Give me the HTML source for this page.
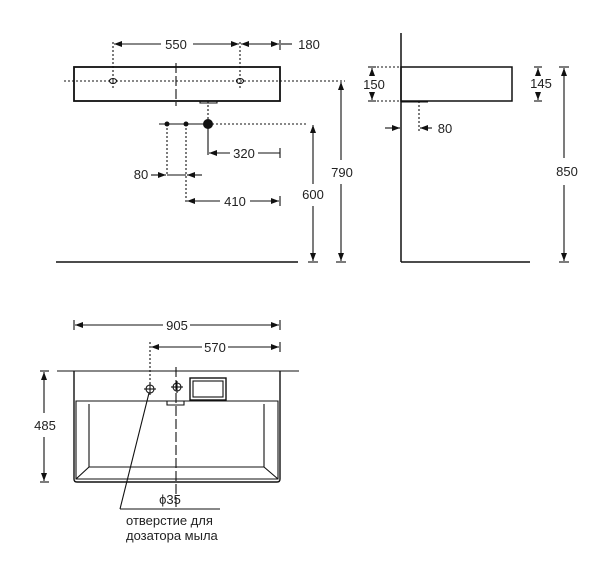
<!DOCTYPE html>
<html><head><meta charset="utf-8"><style>
html,body{margin:0;padding:0;background:#fff;width:612px;height:575px;overflow:hidden}
svg{display:block}
text{font-family:"Liberation Sans","DejaVu Sans",sans-serif;font-size:13px;fill:#222}
</style></head><body>
<svg width="612" height="575" viewBox="0 0 612 575" xmlns="http://www.w3.org/2000/svg">
<defs>
<marker id="a" markerWidth="8" markerHeight="6" refX="8" refY="3" orient="auto-start-reverse" markerUnits="userSpaceOnUse"><path d="M0,0 L8,3 L0,6 z" fill="#111"/></marker>
</defs>
<g stroke="#111" fill="none" stroke-width="1.1">
<rect x="74" y="67" width="206" height="34" stroke-width="1.8"/>
<line x1="176" y1="63" x2="176" y2="106" stroke-dasharray="10,3"/>
<path d="M200,101 v2 h17 v-2"/>
<line x1="64" y1="81" x2="345" y2="81" stroke-dasharray="2,2"/>
<ellipse cx="113" cy="81" rx="3.5" ry="2.5"/><ellipse cx="240" cy="81" rx="3.5" ry="2.5"/>
<line x1="113" y1="42" x2="113" y2="90" stroke-dasharray="2,2"/>
<line x1="240" y1="42" x2="240" y2="90" stroke-dasharray="2,2"/>
<line x1="280" y1="40" x2="280" y2="50"/>
<line x1="114" y1="44" x2="161" y2="44" marker-start="url(#a)"/>
<line x1="193" y1="44" x2="239" y2="44" marker-end="url(#a)"/>
<line x1="241" y1="44" x2="279" y2="44" marker-start="url(#a)" marker-end="url(#a)"/>
<line x1="281" y1="44" x2="292" y2="44"/>
<line x1="159" y1="124" x2="210" y2="124"/>
<line x1="212" y1="124" x2="306" y2="124" stroke-dasharray="2,2"/>
<line x1="208" y1="101" x2="208" y2="120" stroke-dasharray="2,2"/>
<line x1="167" y1="124" x2="167" y2="176" stroke-dasharray="2,2"/>
<line x1="186" y1="124" x2="186" y2="203" stroke-dasharray="2,2"/>
<line x1="208" y1="128" x2="208" y2="155"/>
<line x1="209" y1="153" x2="230" y2="153" marker-start="url(#a)"/>
<line x1="258" y1="153" x2="280" y2="153"/>
<line x1="280" y1="148" x2="280" y2="158"/>
<line x1="151" y1="175" x2="166" y2="175" marker-end="url(#a)"/>
<line x1="202" y1="175" x2="187" y2="175" marker-end="url(#a)"/>
<line x1="167" y1="175" x2="186" y2="175"/>
<line x1="187" y1="201" x2="220" y2="201" marker-start="url(#a)"/>
<line x1="250" y1="201" x2="279" y2="201" marker-end="url(#a)"/>
<line x1="280" y1="196" x2="280" y2="206"/>
<line x1="313" y1="125" x2="313" y2="184" marker-start="url(#a)"/>
<line x1="313" y1="206" x2="313" y2="261" marker-end="url(#a)"/>
<line x1="308" y1="262" x2="318" y2="262"/>
<line x1="341" y1="82" x2="341" y2="160" marker-start="url(#a)"/>
<line x1="341" y1="184" x2="341" y2="261" marker-end="url(#a)"/>
<line x1="336" y1="262" x2="346" y2="262"/>
<line x1="56" y1="262" x2="298" y2="262" stroke-width="1.5"/>
<line x1="401" y1="33" x2="401" y2="262" stroke-width="1.5"/>
<line x1="401" y1="262" x2="530" y2="262" stroke-width="1.5"/>
<rect x="401" y="67" width="111" height="34" stroke-width="1.5"/>
<line x1="373" y1="67" x2="401" y2="67" stroke-dasharray="2,2"/>
<line x1="373" y1="101" x2="401" y2="101" stroke-dasharray="2,2"/>
<line x1="401" y1="101.5" x2="428" y2="101.5" stroke-width="2"/>
<line x1="372" y1="68" x2="372" y2="76" marker-start="url(#a)"/>
<line x1="372" y1="93" x2="372" y2="100" marker-end="url(#a)"/>
<line x1="368" y1="67" x2="376" y2="67"/><line x1="368" y1="101" x2="376" y2="101"/>
<line x1="538" y1="68" x2="538" y2="75" marker-start="url(#a)"/>
<line x1="538" y1="94" x2="538" y2="100" marker-end="url(#a)"/>
<line x1="534" y1="67" x2="542" y2="67"/><line x1="534" y1="101" x2="542" y2="101"/>
<line x1="419" y1="101" x2="419" y2="131" stroke-dasharray="2,2"/>
<line x1="385" y1="128" x2="400" y2="128" marker-end="url(#a)"/>
<line x1="432" y1="128" x2="420" y2="128" marker-end="url(#a)"/>
<line x1="564" y1="68" x2="564" y2="158" marker-start="url(#a)"/>
<line x1="564" y1="185" x2="564" y2="261" marker-end="url(#a)"/>
<line x1="559" y1="67" x2="569" y2="67"/><line x1="559" y1="262" x2="569" y2="262"/>
<line x1="74" y1="320" x2="74" y2="330"/><line x1="280" y1="320" x2="280" y2="330"/>
<line x1="75" y1="325" x2="163" y2="325" marker-start="url(#a)"/>
<line x1="190" y1="325" x2="279" y2="325" marker-end="url(#a)"/>
<line x1="150" y1="342" x2="150" y2="386" stroke-dasharray="2,2"/>
<line x1="280" y1="342" x2="280" y2="352"/>
<line x1="151" y1="347" x2="202" y2="347" marker-start="url(#a)"/>
<line x1="228" y1="347" x2="279" y2="347" marker-end="url(#a)"/>
<line x1="57" y1="371" x2="299" y2="371"/>
<path d="M74,371 V479 Q74,482 77,482 H277 Q280,482 280,479 V371" stroke-width="1.4"/>
<path d="M76,401 V479 H278 V401 Z"/>
<path d="M89,404 V467 H264 V404"/>
<line x1="89" y1="467" x2="76" y2="479"/><line x1="264" y1="467" x2="278" y2="479"/>
<line x1="176" y1="367" x2="176" y2="510" stroke-dasharray="10,3"/>
<circle cx="150" cy="389" r="4"/><line x1="144" y1="389" x2="156" y2="389"/><line x1="150" y1="383" x2="150" y2="395"/>
<circle cx="177" cy="387" r="4"/><line x1="171" y1="387" x2="183" y2="387"/><line x1="177" y1="381" x2="177" y2="393"/>
<rect x="190" y="378" width="36" height="22" stroke-width="1.4"/>
<rect x="193" y="381" width="30" height="16"/>
<path d="M167,401 v4 h17 v-4"/>
<line x1="149" y1="393" x2="120" y2="509"/>
<line x1="120" y1="509" x2="220" y2="509"/>
<line x1="40" y1="371" x2="49" y2="371"/><line x1="40" y1="482" x2="49" y2="482"/>
<line x1="44" y1="372" x2="44" y2="413" marker-start="url(#a)"/>
<line x1="44" y1="437" x2="44" y2="481" marker-end="url(#a)"/>
</g>
<circle cx="167" cy="124" r="2.5" fill="#111"/>
<circle cx="186" cy="124" r="2.5" fill="#111"/>
<circle cx="208" cy="124" r="5" fill="#111"/>
<text x="176" y="49" text-anchor="middle">550</text>
<text x="309" y="49" text-anchor="middle">180</text>
<text x="244" y="158" text-anchor="middle">320</text>
<text x="141" y="179" text-anchor="middle">80</text>
<text x="235" y="206" text-anchor="middle">410</text>
<text x="313" y="199" text-anchor="middle">600</text>
<text x="342" y="177" text-anchor="middle">790</text>
<text x="374" y="89" text-anchor="middle">150</text>
<text x="541" y="88" text-anchor="middle">145</text>
<text x="445" y="133" text-anchor="middle">80</text>
<text x="567" y="176" text-anchor="middle">850</text>
<text x="177" y="330" text-anchor="middle">905</text>
<text x="215" y="352" text-anchor="middle">570</text>
<text x="45" y="430" text-anchor="middle">485</text>
<text x="170" y="504" text-anchor="middle">ϕ35</text>
<text x="126" y="525">отверстие для</text>
<text x="126" y="540">дозатора мыла</text>
</svg>
</body></html>
